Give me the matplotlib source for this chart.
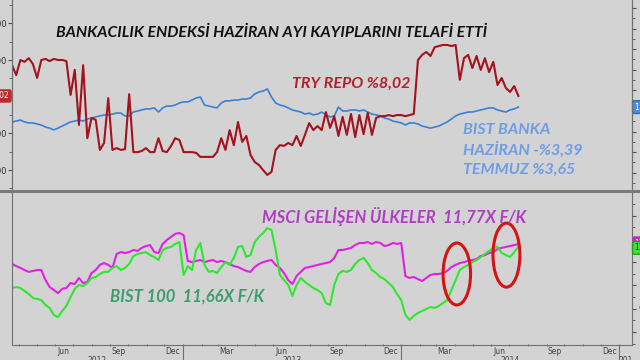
import numpy as np
import pandas as pd
import matplotlib
matplotlib.use("Agg")
import matplotlib.pyplot as plt
import matplotlib.dates as mdates
import matplotlib.transforms as mtransforms
from matplotlib.patches import Ellipse
from matplotlib.lines import Line2D

# weekly readings, 2012-03-21 .. 2014-07-16
start_date = "2012-03-21"

try_repo = [8.86, 8.59, 9.00, 8.95, 9.05, 8.89, 8.51, 9.00, 9.03, 8.97, 9.03, 9.00, 9.00, 8.97,
            8.05, 8.73, 7.23, 8.86, 6.87, 7.42, 7.37, 6.55, 6.74, 7.96, 6.55, 6.60, 6.55, 6.57,
            8.07, 6.49, 6.49, 6.52, 6.60, 6.49, 6.49, 6.87, 6.52, 6.49, 6.66, 6.87, 6.82, 6.49,
            6.49, 6.49, 6.47, 6.36, 6.36, 6.36, 6.36, 6.49, 6.87, 6.55, 7.09, 6.68, 7.31, 6.77,
            6.93, 6.41, 6.22, 6.14, 6.00, 5.87, 5.95, 6.55, 6.68, 6.66, 6.74, 6.68, 6.93, 6.66,
            6.96, 7.28, 7.09, 7.20, 7.09, 7.58, 7.15, 7.47, 6.93, 7.45, 6.96, 7.53, 6.90, 7.50,
            6.98, 7.56, 6.96, 7.42, 7.47, 7.47, 7.50, 7.47, 7.50, 7.50, 7.47, 7.50, 7.53, 9.00,
            9.14, 9.22, 9.11, 9.35, 9.38, 9.41, 9.41, 9.38, 9.41, 8.46, 9.05, 9.14, 8.78, 9.11,
            8.73, 9.05, 8.67, 8.95, 8.32, 8.51, 8.24, 8.13, 8.29, 8.02]

bist_banka = [184.7, 185.1, 185.6, 184.7, 184.2, 184.2, 183.7, 183.2, 182.2, 181.7, 180.8, 181.7,
              182.7, 183.7, 184.7, 185.1, 185.6, 185.1, 186.1, 186.6, 187.1, 187.6, 188.1, 188.1,
              188.5, 189.0, 189.0, 187.6, 187.6, 189.5, 190.0, 190.5, 191.0, 191.0, 191.5, 189.5,
              191.5, 192.4, 192.4, 192.9, 193.9, 194.4, 194.4, 195.3, 196.3, 196.8, 192.9, 192.4,
              191.9, 191.5, 193.9, 194.9, 194.9, 195.3, 195.3, 195.8, 195.8, 196.3, 198.3, 199.2,
              199.7, 200.7, 196.8, 193.9, 192.9, 192.4, 191.5, 190.5, 190.0, 189.5, 188.5, 189.0,
              188.1, 188.5, 189.5, 188.1, 187.1, 187.6, 191.9, 190.0, 190.0, 190.5, 190.5, 190.0,
              190.5, 189.5, 188.5, 188.1, 187.6, 186.6, 186.1, 185.1, 184.7, 184.2, 183.2, 184.2,
              184.2, 183.7, 182.7, 182.2, 181.7, 182.2, 182.7, 183.7, 184.7, 186.1, 187.6, 188.5,
              189.0, 189.5, 189.5, 190.0, 190.5, 191.0, 191.5, 191.5, 190.5, 190.0, 189.5, 190.5,
              191.0, 191.9]

msci_pe = [10.92, 10.83, 10.75, 10.66, 10.58, 10.62, 10.66, 10.66, 10.23, 9.93, 9.80, 9.67,
           9.85, 9.89, 10.10, 10.06, 10.32, 10.10, 10.15, 10.53, 10.66, 10.88, 10.96, 10.88,
           10.75, 11.35, 11.43, 11.39, 11.43, 11.52, 11.48, 11.61, 11.69, 11.73, 11.43, 11.39,
           11.78, 11.95, 12.08, 12.21, 12.25, 12.16, 11.05, 11.00, 11.05, 11.09, 11.00, 11.05,
           11.09, 11.00, 11.05, 11.00, 10.92, 10.83, 10.79, 10.70, 10.62, 10.58, 10.79, 10.92,
           11.00, 11.05, 11.09, 10.88, 10.75, 10.53, 10.23, 10.06, 10.40, 10.58, 10.75, 10.79,
           10.83, 10.88, 10.92, 10.96, 11.00, 11.18, 11.52, 11.52, 11.56, 11.61, 11.73, 11.82,
           11.82, 11.86, 11.78, 11.86, 11.82, 11.69, 11.73, 11.82, 11.78, 11.82, 10.40, 10.32,
           10.36, 10.27, 10.19, 10.32, 10.45, 10.49, 10.49, 10.53, 10.62, 10.79, 10.88, 10.96,
           11.00, 11.05, 11.09, 11.13, 11.26, 11.30, 11.39, 11.43, 11.56, 11.61, 11.65, 11.69,
           11.73, 11.77]

bist100_pe = [9.89, 9.93, 9.89, 9.76, 9.63, 9.46, 9.42, 9.37, 9.16, 9.03, 8.73, 8.64,
              8.90, 9.12, 9.50, 9.85, 10.02, 9.97, 10.10, 10.32, 10.36, 10.49, 10.58, 10.58,
              10.75, 10.83, 10.66, 10.75, 10.92, 11.26, 11.35, 11.39, 11.43, 11.30, 11.22, 11.09,
              11.52, 11.61, 11.65, 11.78, 11.86, 10.45, 10.83, 10.66, 11.52, 11.82, 10.88, 10.58,
              10.62, 10.53, 10.79, 11.00, 10.88, 11.18, 11.65, 11.69, 11.22, 11.30, 11.86, 12.08,
              12.25, 12.46, 12.38, 11.52, 10.45, 10.23, 10.02, 9.55, 10.02, 10.32, 10.15, 10.02,
              9.89, 9.80, 9.67, 9.24, 9.16, 10.02, 10.49, 10.62, 10.58, 10.66, 10.92, 11.09,
              11.18, 10.96, 10.66, 10.53, 10.36, 10.27, 10.10, 9.93, 9.63, 9.37, 8.73, 8.52,
              8.69, 8.82, 8.90, 8.99, 9.07, 9.03, 9.12, 9.24, 9.37, 9.80, 10.23, 10.66,
              10.79, 10.88, 11.00, 11.09, 11.22, 11.35, 11.48, 11.61, 11.65, 11.39, 11.30, 11.22,
              11.43, 11.66]

month_labels = ["Jun", "Sep", "Dec", "Mar", "Jun", "Sep", "Dec", "Mar", "Jun", "Sep", "Dec"]
month_label_dates = ["2012-06-15", "2012-09-15", "2012-12-15", "2013-03-15", "2013-06-15",
                     "2013-09-15", "2013-12-15", "2014-03-15", "2014-06-15", "2014-09-15",
                     "2014-12-15"]
year_labels = ["2012", "2013", "2014", "201"]
year_label_dates = ["2012-08-10", "2013-07-02", "2014-07-02", "2015-01-12"]
year_breaks = ["2013-01-01", "2014-01-01", "2015-01-01"]

repo_ticks = [6, 7, 9, 10]
banka_ticks = [160, 170, 180, 190, 200, 210, 220, 230, 240]
pe_ticks = [8, 9, 10, 11, 13]

bg = "#d3d3d3"
c_repo = "#a3121e"
c_blue = "#3b80d6"
c_mag = "#e41fe4"
c_green = "#2ee82e"

def weekly(values):
    return pd.date_range(start_date, periods=len(values), freq="7D")

fig = plt.figure(figsize=(6.4, 3.6), dpi=100, facecolor=bg)
ax1 = fig.add_axes([12 / 640, 170 / 360, 620 / 640, 195 / 360], facecolor=bg)
ax1r = ax1.twinx()
ax2 = fig.add_axes([12 / 640, 15 / 360, 620 / 640, 153 / 360], facecolor=bg)

xmin, xmax = pd.Timestamp("2012-03-21"), pd.Timestamp("2015-01-22")

ax1r.plot(weekly(bist_banka), bist_banka, color=c_blue, lw=1.2)
ax1.plot(weekly(try_repo), try_repo, color=c_repo, lw=1.5)
ax1.set_zorder(ax1r.get_zorder() + 1)
ax1.patch.set_visible(False)
ax1r.patch.set_facecolor(bg)

ax1.set_ylim(5.458, 10.771)
ax1r.set_ylim(151.65, 246.3)
ax2.plot(weekly(msci_pe), msci_pe, color=c_mag, lw=1.5)
ax2.plot(weekly(bist100_pe), bist100_pe, color=c_green, lw=1.5)
ax2.set_ylim(7.442, 14.009)

for a in (ax1, ax1r, ax2):
    a.set_xlim(xmin, xmax)
    for s in a.spines.values():
        s.set_color("#707070")
        s.set_linewidth(0.8)
    a.spines["top"].set_visible(False)

ax1.spines["bottom"].set_visible(False)
ax1r.spines["bottom"].set_visible(False)
ax1.set_xticks([])
ax1r.set_xticks([])

lab_kw = dict(labelsize=6, colors="#505050", labelcolor="#303030")
ax1.set_yticks(repo_ticks)
ax1.set_yticklabels([f"{v:.2f}" for v in repo_ticks])
ax1.set_yticks(np.arange(5.5, 10.6, 0.5), minor=True)
ax1.tick_params(axis="y", which="major", length=3, pad=1, **lab_kw)
ax1.tick_params(axis="y", which="minor", length=2, colors="#505050")

ax1r.set_yticks(banka_ticks)
ax1r.set_yticklabels([f"{v:.0f}000" for v in banka_ticks])
ax1r.set_yticks(np.arange(155, 246, 5), minor=True)
ax1r.tick_params(axis="y", which="major", length=3, pad=2, **lab_kw)
ax1r.tick_params(axis="y", which="minor", length=2, colors="#505050")

ax2.yaxis.tick_right()
ax2.set_yticks(pe_ticks)
ax2.set_yticklabels([f"{v:.2f}" for v in pe_ticks])
ax2.set_yticks(np.arange(7.5, 14.0, 0.5), minor=True)
ax2.tick_params(axis="y", which="major", length=3, pad=2, **lab_kw)
ax2.tick_params(axis="y", which="minor", length=2, colors="#505050")
ax2.spines["left"].set_visible(True)

ax2.set_xticks(pd.to_datetime(month_label_dates))
ax2.set_xticklabels(month_labels)
ax2.xaxis.set_minor_locator(mdates.MonthLocator())
ax2.tick_params(axis="x", which="major", length=0, pad=1.5, labelsize=5.5, labelcolor="#404040")
ax2.tick_params(axis="x", which="minor", length=2, direction="inout", colors="#505050")

tb = mtransforms.blended_transform_factory(ax2.transData, ax2.transAxes)
for d, lab in zip(year_label_dates, year_labels):
    ax2.text(pd.Timestamp(d), -0.1, lab, transform=tb, ha="center", va="center",
             fontsize=5.5, color="#404040", clip_on=False)
for d in year_breaks:
    ax2.plot([pd.Timestamp(d)] * 2, [0, -0.12], transform=tb, color="#707070", lw=0.8,
             clip_on=False)

# separator between the panels
fig.add_artist(Line2D([0, 1], [169 / 360, 169 / 360], color="#7a7a7a", lw=2.2))

# value tags
tl = mtransforms.blended_transform_factory(ax1.transAxes, ax1.transData)
ax1.text(-0.004, try_repo[-1], f"{try_repo[-1]:.2f}", transform=tl, ha="right", va="center",
         fontsize=5.5, color="white", clip_on=False,
         bbox=dict(boxstyle="round,pad=0.2", fc="#c0282c", ec="#c0282c"))
tr = mtransforms.blended_transform_factory(ax1r.transAxes, ax1r.transData)
ax1r.text(1.004, bist_banka[-1], "1", transform=tr, ha="left", va="center",
          fontsize=5.5, color="white", clip_on=False,
          bbox=dict(boxstyle="round,pad=0.25", fc="#4a8ee0", ec="#2a6ec0"))
t2 = mtransforms.blended_transform_factory(ax2.transAxes, ax2.transData)
ax2.text(1.004, msci_pe[-1] + 0.05, f"{msci_pe[-1]:.2f}", transform=t2, ha="left", va="center",
         fontsize=5.5, color="white", clip_on=False,
         bbox=dict(boxstyle="round,pad=0.2", fc="#c030c0", ec="#c030c0"))
ax2.text(1.004, bist100_pe[-1] - 0.05, f"{bist100_pe[-1]:.2f}", transform=t2, ha="left",
         va="center", fontsize=5.5, color="#104010", clip_on=False,
         bbox=dict(boxstyle="round,pad=0.25", fc="#40e040", ec="#20a020"))

# red circles
for cx, cy, w, h in [("2014-04-04", 10.49, 46, 2.66), ("2014-06-26", 11.30, 45, 2.75)]:
    ax2.add_patch(Ellipse((mdates.date2num(pd.Timestamp(cx)), cy), w, h, fill=False,
                          ec="#d41414", lw=2.2, zorder=5))

font = dict(family="Lato", weight="bold", style="italic")
fig.text(272 / 640, 0.908, "BANKACILIK ENDEKSİ HAZİRAN AYI KAYIPLARINI TELAFİ ETTİ",
         ha="center", va="center", fontsize=11.3, color="#111111", **font)
fig.text(292 / 640, 1 - 84 / 360, "TRY REPO %8,02", ha="left", va="center",
         fontsize=11.5, color="#b3202c", **font)
for i, s in enumerate(["BIST BANKA", "HAZİRAN -%3,39", "TEMMUZ %3,65"]):
    fig.text(463 / 640, 1 - (130 + 20 * i) / 360, s, ha="left", va="center",
             fontsize=11.5, color="#6e9de6", **font)
fig.text(262 / 640, 1 - 216 / 360, "MSCI GELİŞEN ÜLKELER  11,77X F/K", ha="left",
         va="center", fontsize=12, color="#b13cc4", **font)
fig.text(110 / 640, 1 - 297 / 360, "BIST 100  11,66X F/K", ha="left", va="center",
         fontsize=12, color="#3a9e6e", **font)

fig.savefig("out.png", dpi=100, facecolor=bg)
